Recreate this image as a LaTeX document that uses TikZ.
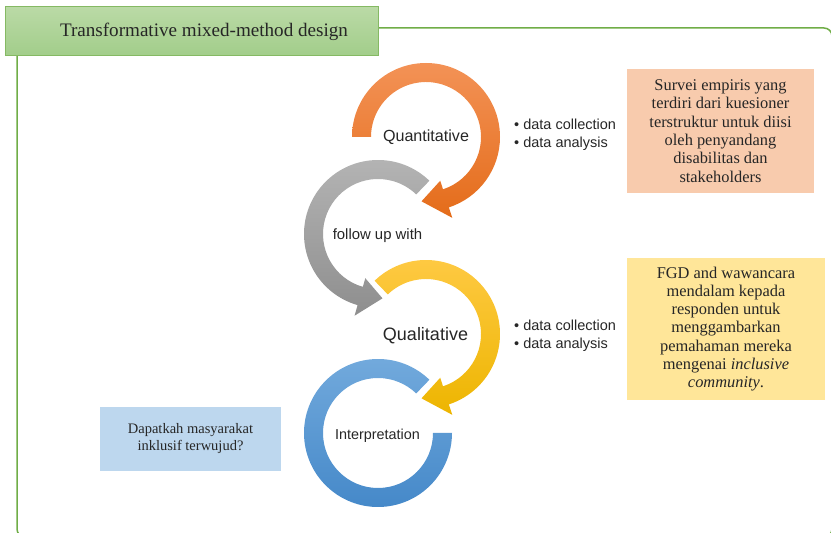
\documentclass[tikz,border=0pt]{standalone}
\usepackage{fontspec}
\setmainfont{Liberation Serif}
\setsansfont{Liberation Sans}
\usepackage{xcolor}

\definecolor{frameGreen}{HTML}{70AD47}
\definecolor{titleTop}{HTML}{BADAA6}
\definecolor{titleBot}{HTML}{A2CD8A}
\definecolor{orangeTop}{HTML}{F39256}
\definecolor{orangeBot}{HTML}{E46C1A}
\definecolor{grayTop}{HTML}{B5B5B5}
\definecolor{grayBot}{HTML}{8E8E8E}
\definecolor{yellowTop}{HTML}{FFCA45}
\definecolor{yellowBot}{HTML}{EDB500}
\definecolor{blueTop}{HTML}{74ABDD}
\definecolor{blueBot}{HTML}{4387C8}
\definecolor{boxOrange}{HTML}{F8CBAD}
\definecolor{boxYellow}{HTML}{FFE699}
\definecolor{boxBlue}{HTML}{BDD7EE}
\definecolor{textGray}{HTML}{262626}

\tikzset{
  stagetext/.style={font=\sffamily, text=textGray, anchor=base, inner sep=0pt},
  bulletlist/.style={font=\sffamily\fontsize{14.5}{18}\selectfont, text=textGray, align=left, anchor=west, inner sep=0pt},
  notebox/.style={font=\fontsize{16.4}{18.3}\selectfont, text=textGray, align=center, inner sep=0pt}
}

\begin{document}
\begin{tikzpicture}[x=1pt, y=1pt]
  \useasboundingbox (0,0) rectangle (831,533);
  \clip (0,0) rectangle (831,533);

  % Frame
  \draw[frameGreen, line width=1.5pt, rounded corners=8pt] (17,-4) rectangle (832,505);

  % Title
  \node[draw=frameGreen!85, line width=1pt, top color=titleTop, bottom color=titleBot,
        minimum width=373pt, minimum height=49pt, inner sep=0pt,
        font=\fontsize{19.1}{22}\selectfont, text=textGray] (title) at (191.5,501.5)
        {\hspace*{25pt}Transformative mixed-method design};

  % Circular arrows
  \begin{scope}[shift={(426,396)}]
    \shade[top color=orangeTop, bottom color=orangeBot] (180:74) arc[start angle=180, end angle=-72, radius=74]
      -- (-72:85) -- (-94:64.5) -- (-72:46) -- (-72:55) arc[start angle=-72, end angle=180, radius=55] -- cycle;
  \end{scope}
  \begin{scope}[shift={(378,299)}]
    \shade[top color=grayTop, bottom color=grayBot] (46:74) arc[start angle=46, end angle=254, radius=74]
      -- (254:85) -- (274:64.5) -- (254:46) -- (254:55) arc[start angle=254, end angle=46, radius=55] -- cycle;
  \end{scope}
  \begin{scope}[shift={(426,199)}]
    \shade[top color=yellowTop, bottom color=yellowBot] (134:74) arc[start angle=134, end angle=-72, radius=74]
      -- (-72:85) -- (-94:64.5) -- (-72:46) -- (-72:55) arc[start angle=-72, end angle=134, radius=55] -- cycle;
  \end{scope}
  \begin{scope}[shift={(378,100)}]
    \shade[top color=blueTop, bottom color=blueBot] (46:74) arc[start angle=46, end angle=360, radius=74]
      -- (0:55) arc[start angle=360, end angle=46, radius=55] -- cycle;
  \end{scope}

  % Stage labels
  \node[stagetext, font=\sffamily\fontsize{16.1}{19}\selectfont] (quant) at (426,391) {Quantitative};
  \node[stagetext, font=\sffamily\fontsize{14.9}{18}\selectfont] (follow) at (377.5,293) {follow up with};
  \node[stagetext, font=\sffamily\fontsize{18}{21}\selectfont] (qual) at (425.5,192) {Qualitative};
  \node[stagetext, font=\sffamily\fontsize{14.4}{17}\selectfont] (interp) at (377.5,93) {Interpretation};

  % Steps
  \node[bulletlist] (quantsteps) at (514,398) {\textbullet\ data collection\\\textbullet\ data analysis};
  \node[bulletlist] (qualsteps) at (514,197) {\textbullet\ data collection\\\textbullet\ data analysis};

  % Notes
  \node[notebox, fill=boxOrange, minimum width=187pt, minimum height=124pt] (survey) at (720.5,402)
    {Survei empiris yang\\terdiri dari kuesioner\\terstruktur untuk diisi\\oleh penyandang\\disabilitas dan\\stakeholders};
  \node[notebox, fill=boxYellow, minimum width=198pt, minimum height=142pt] (fgd) at (726,204)
    {FGD and wawancara\\mendalam kepada\\responden untuk\\menggambarkan\\pemahaman mereka\\mengenai \textit{inclusive}\\\textit{community}.};
  \node[notebox, font=\fontsize{14.5}{17}\selectfont, fill=boxBlue, minimum width=181pt, minimum height=64pt] (question) at (190.5,94)
    {\parbox[c][32pt][t]{170pt}{\centering Dapatkah masyarakat\\inklusif terwujud?}};
\end{tikzpicture}
\end{document}
